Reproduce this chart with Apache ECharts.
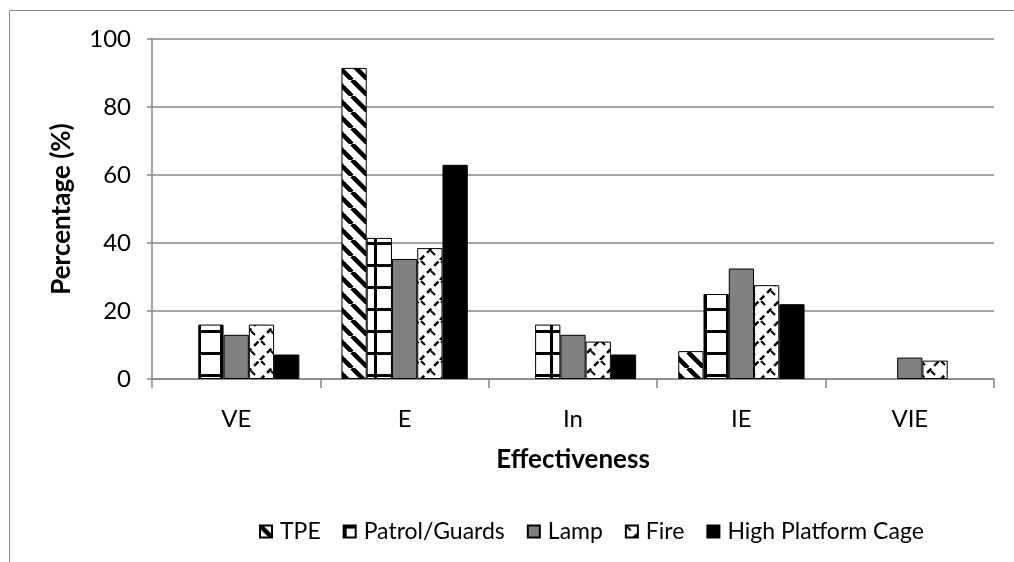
<!DOCTYPE html>
<html><head><meta charset="utf-8">
<script src="https://cdn.jsdelivr.net/npm/echarts@6/dist/echarts.min.js"></script>
<style>html,body{margin:0;padding:0;background:#fff}#c{width:1014px;height:562px}</style>
</head><body><div id="c"></div>
<script>
const categories = ['VE', 'E', 'In', 'IE', 'VIE'];
const seriesNames = ['TPE', 'Patrol/Guards', 'Lamp', 'Fire', 'High Platform Cage'];
const tpe = [null, 91.5, null, 8.2, null];
const patrol = [16, 41.5, 16, 25, null];
const lamp = [13, 35.3, 13, 32.5, 6.3];
const fire = [16, 38.5, 11, 27.6, 5.4];
const hpc = [7.2, 63, 7.2, 22, null];
const yTicks = [0, 20, 40, 60, 80, 100];

function tile(s, draw) {
  const c = document.createElement('canvas');
  c.width = s; c.height = s;
  const g = c.getContext('2d');
  g.fillStyle = '#fff'; g.fillRect(0, 0, s, s);
  g.strokeStyle = '#000';
  draw(g, s);
  return { image: c, repeat: 'repeat' };
}
const diagPat = tile(16, (g, s) => {
  g.lineWidth = 4.5;
  for (const o of [-s, 0, s]) { g.beginPath(); g.moveTo(o, 0); g.lineTo(o + s, s); g.stroke(); }
});
const gridPat = tile(22, (g, s) => {
  g.fillStyle = '#000';
  g.fillRect(0, 0, s, 3);
  g.fillRect(0, 0, 3, s);
});
const firePat = tile(20, (g, s) => {
  g.lineWidth = 2.5;
  g.setLineDash([6, 4]);
  for (const o of [-s, 0, s]) { g.beginPath(); g.moveTo(o, s); g.lineTo(o + s, 0); g.stroke(); }
  g.setLineDash([]);
  g.lineWidth = 2;
  g.beginPath(); g.moveTo(1, 1); g.lineTo(5, 5); g.stroke();
  g.beginPath(); g.moveTo(11, 11); g.lineTo(15, 15); g.stroke();
});

const fills = [diagPat, gridPat, '#808080', firePat, '#000000'];
const datas = [tpe, patrol, lamp, fire, hpc];
const FONT = 'Lato, "Open Sans", sans-serif';

const chart = echarts.init(document.getElementById('c'), null, { renderer: 'canvas' });
chart.setOption({
  animation: false,
  backgroundColor: '#fff',
  graphic: [{ type: 'rect', shape: { x: 9.5, y: 10.5, width: 1100, height: 700 }, style: { fill: 'none', stroke: '#868686', lineWidth: 1 }, silent: true }],
  grid: { left: 152, right: 20, top: 39, bottom: 183 },
  legend: {
    bottom: 14, left: 254, icon: 'rect', itemWidth: 12, itemHeight: 12, itemGap: 22,
    textStyle: { fontFamily: FONT, fontSize: 23, color: '#000', padding: [0, 0, 0, 3] },
    data: seriesNames
  },
  xAxis: {
    type: 'category', data: categories,
    name: 'Effectiveness', nameLocation: 'middle', nameGap: 68,
    nameTextStyle: { fontFamily: FONT, fontSize: 26, fontWeight: 'bold', color: '#000' },
    axisLine: { lineStyle: { color: '#868686', width: 1.5 } },
    axisTick: { show: true, length: 9, lineStyle: { color: '#868686', width: 1.5 } },
    axisLabel: { fontFamily: FONT, fontSize: 24, color: '#000', margin: 28 }
  },
  yAxis: {
    type: 'value', min: 0, max: 100, interval: 20,
    name: 'Percentage (%)', nameLocation: 'middle', nameGap: 77, nameRotate: 90,
    nameTextStyle: { fontFamily: FONT, fontSize: 26, fontWeight: 'bold', color: '#000' },
    axisLine: { show: true, lineStyle: { color: '#868686', width: 1.5 } },
    axisTick: { show: true, length: 5, lineStyle: { color: '#868686', width: 1.5 } },
    axisLabel: { fontFamily: FONT, fontSize: 24, color: '#000', margin: 21,
      formatter: v => yTicks.includes(v) ? String(v) : '' },
    splitLine: { lineStyle: { color: '#868686', width: 1.5 } }
  },
  series: seriesNames.map((n, i) => ({
    name: n, type: 'bar', data: datas[i],
    barGap: '0%', barCategoryGap: '25%',
    itemStyle: { color: fills[i], borderColor: '#000', borderWidth: 1 }
  }))
});
</script></body></html>
